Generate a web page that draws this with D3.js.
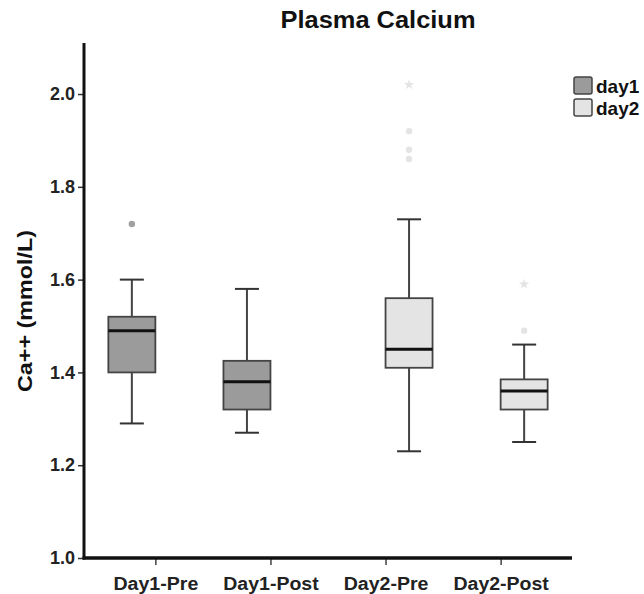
<!DOCTYPE html>
<html>
<head>
<meta charset="utf-8">
<script src="https://cdn.jsdelivr.net/npm/d3@7"></script>
<style>
  html, body { margin: 0; padding: 0; background: #fff; }
  svg { display: block; font-family: "Liberation Sans", Arial, sans-serif; }
</style>
</head>
<body>
<svg id="chart" width="644" height="594"></svg>
<script>
// ---- data ----
const categories = ["Day1-Pre", "Day1-Post", "Day2-Pre", "Day2-Post"];
const seriesOf = ["day1", "day1", "day2", "day2"];
const seriesNames = ["day1", "day2"];
const whiskerLow = [1.29, 1.27, 1.23, 1.25];
const q1 = [1.40, 1.32, 1.41, 1.32];
const median = [1.49, 1.38, 1.45, 1.36];
const q3 = [1.52, 1.425, 1.56, 1.385];
const whiskerHigh = [1.60, 1.58, 1.73, 1.46];
const outlierCat = ["Day1-Pre", "Day2-Pre", "Day2-Pre", "Day2-Pre", "Day2-Post"];
const outlierVal = [1.72, 1.92, 1.88, 1.86, 1.49];
const extremeCat = ["Day2-Pre", "Day2-Post"];
const extremeVal = [2.02, 1.59];
const yTicks = [1.0, 1.2, 1.4, 1.6, 1.8, 2.0];
const yDomain = [1.0, 2.11];

// ---- styles ----
const fillColor = { day1: "#9b9b9b", day2: "#e4e4e4" };
const outlierColor = { day1: "#a0a0a0", day2: "#e4e4e4" };

const svg = d3.select("#chart");

const x = d3.scalePoint().domain(categories).range([84, 572]).padding(0.62);
const sub = d3.scaleBand().domain(seriesNames).range([-47, 47]);
const y = d3.scaleLinear().domain(yDomain).range([558, 43]);

const seriesFor = c => seriesOf[categories.indexOf(c)];
const cx = c => x(c) + sub(seriesFor(c)) + sub.bandwidth() / 2;

// title
svg.append("text")
  .attr("x", 378).attr("y", 28)
  .attr("text-anchor", "middle")
  .attr("font-size", 23).attr("font-weight", "bold")
  .attr("textLength", 195).attr("lengthAdjust", "spacingAndGlyphs")
  .attr("fill", "#111")
  .text("Plasma Calcium");

// y axis
const yAxis = svg.append("g")
  .attr("transform", "translate(84,0)")
  .call(d3.axisLeft(y).tickValues(yTicks).tickFormat(d3.format(".1f")).tickSize(6).tickPadding(3));
yAxis.select(".domain").remove();
yAxis.selectAll(".tick line").attr("stroke", "#333").attr("stroke-width", 1.5);
yAxis.selectAll(".tick text")
  .attr("font-size", 18).attr("font-weight", "bold").attr("fill", "#222")
  .attr("font-family", "Liberation Sans, Arial, sans-serif");
svg.append("line")
  .attr("x1", 84).attr("x2", 84).attr("y1", y(yDomain[1])).attr("y2", y(yDomain[0]) + 1.5)
  .attr("stroke", "#111").attr("stroke-width", 3);

// x axis
const xAxis = svg.append("g")
  .attr("transform", "translate(0,558)")
  .call(d3.axisBottom(x).tickSize(7).tickPadding(8));
xAxis.select(".domain").remove();
xAxis.selectAll(".tick line").attr("stroke", "#444").attr("stroke-width", 1.5);
xAxis.selectAll(".tick text")
  .attr("font-size", 18).attr("font-weight", "bold").attr("fill", "#222")
  .attr("font-family", "Liberation Sans, Arial, sans-serif")
  .attr("textLength", d => d.length * 10.6).attr("lengthAdjust", "spacingAndGlyphs")
  .attr("dy", "0.95em");
svg.append("line")
  .attr("x1", 82.5).attr("x2", 572).attr("y1", 558).attr("y2", 558)
  .attr("stroke", "#111").attr("stroke-width", 3.5);

// y label
svg.append("text")
  .attr("transform", "translate(32,311) rotate(-90)")
  .attr("text-anchor", "middle")
  .attr("font-size", 20).attr("font-weight", "bold").attr("fill", "#111")
  .attr("textLength", 162).attr("lengthAdjust", "spacingAndGlyphs")
  .text("Ca++ (mmol/L)");

// boxes
const idx = d3.range(categories.length);
const boxes = svg.append("g");
idx.forEach(i => {
  const c = categories[i];
  const s = seriesOf[i];
  const mx = cx(c);
  const w = sub.bandwidth();
  const g = boxes.append("g");
  // whiskers
  g.append("line").attr("x1", mx).attr("x2", mx).attr("y1", y(whiskerHigh[i])).attr("y2", y(q3[i]))
    .attr("stroke", "#444").attr("stroke-width", 2);
  g.append("line").attr("x1", mx).attr("x2", mx).attr("y1", y(q1[i])).attr("y2", y(whiskerLow[i]))
    .attr("stroke", "#444").attr("stroke-width", 2);
  [whiskerHigh[i], whiskerLow[i]].forEach(v => {
    g.append("line").attr("x1", mx - 12).attr("x2", mx + 12).attr("y1", y(v)).attr("y2", y(v))
      .attr("stroke", "#333").attr("stroke-width", 2);
  });
  // box
  g.append("rect")
    .attr("x", mx - w / 2).attr("y", y(q3[i]))
    .attr("width", w).attr("height", y(q1[i]) - y(q3[i]))
    .attr("fill", fillColor[s]).attr("stroke", "#444").attr("stroke-width", 1.8);
  // median
  g.append("line").attr("x1", mx - w / 2).attr("x2", mx + w / 2)
    .attr("y1", y(median[i])).attr("y2", y(median[i]))
    .attr("stroke", "#111").attr("stroke-width", 3);
});

// outliers
svg.append("g").selectAll("circle")
  .data(d3.range(outlierVal.length))
  .join("circle")
  .attr("cx", i => cx(outlierCat[i]))
  .attr("cy", i => y(outlierVal[i]))
  .attr("r", 3.2)
  .attr("fill", i => outlierColor[seriesFor(outlierCat[i])]);

// extremes (stars)
svg.append("g").selectAll("path")
  .data(d3.range(extremeVal.length))
  .join("path")
  .attr("d", d3.symbol().type(d3.symbolStar).size(34))
  .attr("transform", i => `translate(${cx(extremeCat[i])},${y(extremeVal[i])})`)
  .attr("fill", i => outlierColor[seriesFor(extremeCat[i])]);

// legend
const legend = svg.append("g");
seriesNames.forEach((s, k) => {
  const ly = 77 + k * 22;
  legend.append("rect")
    .attr("x", 574).attr("y", ly).attr("width", 18).attr("height", 17)
    .attr("rx", 2)
    .attr("fill", fillColor[s]).attr("stroke", "#444").attr("stroke-width", 1.5);
  legend.append("text")
    .attr("x", 596).attr("y", ly + 16)
    .attr("font-size", 19).attr("font-weight", "bold").attr("fill", "#111")
    .text(s);
});
</script>
</body>
</html>
